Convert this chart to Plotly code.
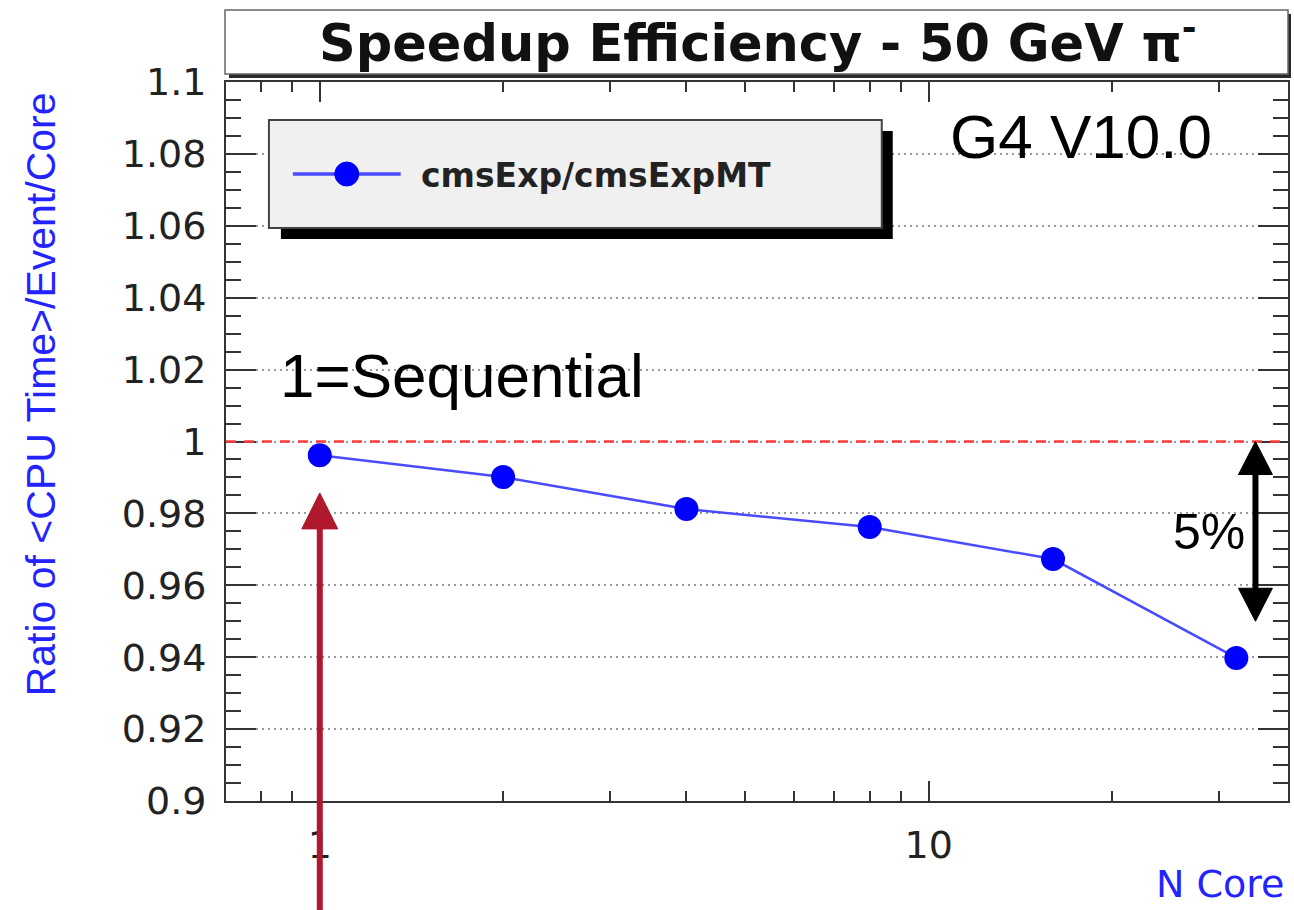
import math
import plotly.graph_objects as go

# Measured CPU time ratio (sequential / multi-threaded) per core count
n_cores = [1, 2, 4, 8, 16, 32]
cpu_ratio = [0.9962, 0.9901, 0.9812, 0.9762, 0.9673, 0.9398]

series_name = "cmsExp/cmsExpMT"
chart_title = "<b>Speedup Efficiency - 50 GeV \u03c0<sup>-</sup></b>"
y_title = "Ratio of &lt;CPU Time&gt;/Event/Core"
x_title = "N Core"

y_major_vals = [0.9, 0.92, 0.94, 0.96, 0.98, 1.0, 1.02, 1.04, 1.06, 1.08, 1.1]
y_major_text = ["0.9", "0.92", "0.94", "0.96", "0.98", "1", "1.02", "1.04", "1.06", "1.08", "1.1"]
x_major_vals = [1, 10]
x_major_text = ["1", "10"]
x_minor_vals = [0.8, 0.9, 2, 3, 4, 5, 6, 7, 8, 9, 20, 30]

reference_level = 1.0       # sequential baseline
band_low = 0.95             # 5% band below the baseline
seq_arrow_x = 1             # pointer under the single-thread point
seq_arrow_tip = 0.9857
band_arrow_x = 34.4

X_RANGE = [-0.154, 1.590]   # log10 units
Y_RANGE = [0.9, 1.1]

W, H = 1294, 910
PLOT_L, PLOT_R, PLOT_T, PLOT_B = 226, 1290, 82, 801


def px(x):
    return (x - PLOT_L) / (PLOT_R - PLOT_L)


def py(y):
    return (PLOT_B - y) / (PLOT_B - PLOT_T)


def xpix(v):
    f = (math.log10(v) - X_RANGE[0]) / (X_RANGE[1] - X_RANGE[0])
    return PLOT_L + f * (PLOT_R - PLOT_L)


def ypix(v):
    f = (v - Y_RANGE[0]) / (Y_RANGE[1] - Y_RANGE[0])
    return PLOT_B - f * (PLOT_B - PLOT_T)


def head(x, y, direction, width, length, color):
    """Triangular arrow head with its tip at pixel (x, y); direction -1 = up, +1 = down."""
    base = y - direction * length
    path = "M {:.5f},{:.5f} L {:.5f},{:.5f} L {:.5f},{:.5f} Z".format(
        px(x), py(y), px(x - width / 2), py(base), px(x + width / 2), py(base))
    return dict(type="path", xref="paper", yref="paper", path=path,
                fillcolor=color, line=dict(color=color, width=1), layer="above")


def shaft(x, y0, y1, width, color):
    return dict(type="line", xref="paper", yref="paper",
                x0=px(x), x1=px(x), y0=py(y0), y1=py(y1),
                line=dict(color=color, width=width), layer="above")


ROOT_FONT = "DejaVu Sans"
ARIAL = "Liberation Sans"

fig = go.Figure()
fig.add_trace(go.Scatter(
    x=n_cores, y=cpu_ratio, mode="lines+markers", name=series_name,
    line=dict(color="#4a4aff", width=2.5),
    marker=dict(color="#0000ff", size=24, symbol="circle"),
    showlegend=False,
))

shapes = []
# baseline at 1
shapes.append(dict(type="line", xref="x domain", yref="y", x0=0, x1=1,
                   y0=reference_level, y1=reference_level,
                   line=dict(color="#ff3b3b", width=2.5, dash="10px,8px"), layer="above"))
# title box with shadow
shapes.append(dict(type="rect", xref="paper", yref="paper",
                   x0=px(229), x1=px(1293), y0=py(14), y1=py(78),
                   fillcolor="#2a2a2a", line=dict(width=0), layer="above"))
shapes.append(dict(type="rect", xref="paper", yref="paper",
                   x0=px(225), x1=px(1290), y0=py(10), y1=py(74),
                   fillcolor="white", line=dict(color="#666", width=1.5), layer="above"))
# legend box with shadow
shapes.append(dict(type="rect", xref="paper", yref="paper",
                   x0=px(281), x1=px(894), y0=py(131), y1=py(239),
                   fillcolor="black", line=dict(width=0), layer="above"))
shapes.append(dict(type="rect", xref="paper", yref="paper",
                   x0=px(269), x1=px(883), y0=py(120), y1=py(228),
                   fillcolor="#f0f0f0", line=dict(color="#444", width=2), layer="above"))
shapes.append(dict(type="line", xref="paper", yref="paper",
                   x0=px(293), x1=px(401), y0=py(174), y1=py(174),
                   line=dict(color="#4a4aff", width=3.5), layer="above"))
shapes.append(dict(type="circle", xref="paper", yref="paper",
                   x0=px(335), x1=px(359), y0=py(162), y1=py(186),
                   fillcolor="#0000ff", line=dict(color="#0000ff", width=1), layer="above"))

# red pointer to the sequential point
RED = "#b0182c"
sx, stip = xpix(seq_arrow_x), ypix(seq_arrow_tip)
shapes.append(shaft(sx, H + 5, stip + 30, 6, RED))
shapes.append(head(sx, stip, -1, 36, 36, RED))

# double arrow marking the 5% band
bx, btop, bbot = xpix(band_arrow_x), ypix(reference_level), ypix(band_low)
shapes.append(shaft(bx, btop + 28, bbot - 28, 6, "black"))
shapes.append(head(bx, btop, -1, 34, 33, "black"))
shapes.append(head(bx, bbot, 1, 34, 33, "black"))

annotations = [
    dict(text=chart_title, xref="paper", yref="paper", x=px(759), y=py(40),
         xanchor="center", yanchor="middle", showarrow=False,
         font=dict(family=ROOT_FONT, size=51, color="#111")),
    dict(text="<b>" + series_name + "</b>", xref="paper", yref="paper",
         x=px(419), y=py(175), xanchor="left", yanchor="middle", showarrow=False,
         font=dict(family=ROOT_FONT, size=33, color="#222")),
    dict(text="G4 V10.0", xref="paper", yref="paper", x=px(949), y=py(137),
         xanchor="left", yanchor="middle", showarrow=False,
         font=dict(family=ARIAL, size=62, color="black")),
    dict(text="1=Sequential", xref="paper", yref="paper", x=px(278), y=py(375),
         xanchor="left", yanchor="middle", showarrow=False,
         font=dict(family=ARIAL, size=62, color="black")),
    dict(text="5%", xref="paper", yref="paper", x=px(1211), y=py(532),
         xanchor="center", yanchor="middle", showarrow=False,
         font=dict(family=ARIAL, size=50, color="black")),
    dict(text=y_title, xref="paper", yref="paper", x=px(41), y=py(394),
         xanchor="center", yanchor="middle", textangle=-90, showarrow=False,
         font=dict(family=ARIAL, size=41, color="#2323ff")),
    dict(text=x_title, xref="paper", yref="paper", x=px(1288), y=py(884),
         xanchor="right", yanchor="middle", showarrow=False,
         font=dict(family=ROOT_FONT, size=38, color="#2323ff")),
]

axis_line = dict(showline=True, linecolor="#333", linewidth=2, mirror="ticks",
                 ticks="inside", tickcolor="#333", tickwidth=2)

fig.update_layout(
    width=W, height=H,
    margin=dict(l=PLOT_L, r=W - PLOT_R, t=PLOT_T, b=H - PLOT_B, pad=0),
    paper_bgcolor="white", plot_bgcolor="white",
    showlegend=False,
    shapes=shapes, annotations=annotations,
    xaxis=dict(type="log", range=X_RANGE, tickmode="array",
               tickvals=x_major_vals, ticktext=x_major_text, ticklen=20,
               showgrid=False, zeroline=False, ticklabelstandoff=9,
               tickfont=dict(family=ROOT_FONT, size=38, color="#222"),
               minor=dict(tickmode="array", tickvals=x_minor_vals, ticks="inside",
                          ticklen=10, tickcolor="#333", tickwidth=2, showgrid=False),
               **axis_line),
    yaxis=dict(range=Y_RANGE, tickmode="array",
               tickvals=y_major_vals, ticktext=y_major_text, ticklen=30,
               showgrid=True, gridcolor="#9a9a9a", gridwidth=2, griddash="2px,4px",
               zeroline=False, ticklabelstandoff=10,
               tickfont=dict(family=ROOT_FONT, size=38, color="#222"),
               minor=dict(dtick=0.005, tick0=0.9, ticks="inside", ticklen=15,
                          tickcolor="#333", tickwidth=2, showgrid=False),
               **axis_line),
)

fig.write_html("out.html")
